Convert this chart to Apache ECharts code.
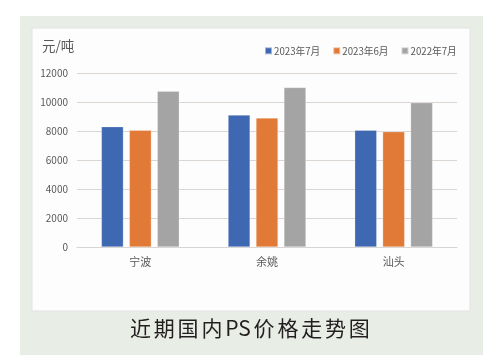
<!DOCTYPE html>
<html><head><meta charset="utf-8">
<script src="https://cdn.jsdelivr.net/npm/echarts@6/dist/echarts.min.js"></script>
<style>html,body{margin:0;padding:0;background:#fff;}#c{width:491px;height:362px;}</style>
</head><body><div id="c"></div>
<script>
const categories = ['宁波', '余姚', '汕头'];
const seriesNames = ['2023年7月', '2023年6月', '2022年7月'];
const jul2023 = [8300, 9100, 8050];
const jun2023 = [8050, 8900, 7950];
const jul2022 = [10750, 11000, 9950];
const yTicks = [0, 2000, 4000, 6000, 8000, 10000, 12000];
const captionParts = ['近', '期', '国', '内', 'PS', '价', '格', '走', '势', '图'];

const colors = ['#3f68b2', '#e17a36', '#a5a4a4'];
const chart = echarts.init(document.getElementById('c'), null, {renderer: 'canvas'});
const font = '"Noto Sans CJK SC", "Noto Sans", sans-serif';
const dataSets = [jul2023, jun2023, jul2022];
const capRich = captionParts.map(ch => '{a|' + ch + '}').join('');
chart.setOption({
  animation: false,
  backgroundColor: '#ffffff',
  graphic: [
    {type: 'rect', shape: {x: 20, y: 16, width: 463, height: 339}, style: {fill: '#e8ede6'}, z: -10},
    {type: 'rect', shape: {x: 32, y: 28, width: 438, height: 283}, style: {fill: '#fdfdfd', stroke: '#e3e3e3', lineWidth: 1}, z: -9},
    {type: 'text', left: 130, top: 318, style: {
      text: capRich, fill: '#231f20',
      rich: {a: {fontSize: 21, fontFamily: '"Noto Sans CJK SC", sans-serif', fill: '#231f20', padding: [0, 1.4, 0, 1.4]}}
    }, z: 10}
  ],
  title: {
    text: '元/吨', left: 37, top: 34,
    textStyle: {fontSize: 13.5, fontWeight: 'normal', color: '#595959', fontFamily: font}
  },
  legend: {
    data: seriesNames, left: 259, top: 41, itemWidth: 7, itemHeight: 7, itemGap: 12,
    icon: 'rect',
    textStyle: {fontSize: 9.7, color: '#595959', fontFamily: font, padding: [0, 0, 0, -3]}
  },
  grid: {left: 77, right: 34, top: 73, bottom: 115, containLabel: false},
  xAxis: {
    type: 'category', data: categories,
    axisLine: {lineStyle: {color: '#d9d5d2'}}, axisTick: {show: false},
    axisLabel: {fontSize: 11, color: '#595959', fontFamily: font, margin: 9}
  },
  yAxis: {
    type: 'value', min: yTicks[0], max: yTicks[yTicks.length - 1], interval: yTicks[1] - yTicks[0],
    axisLine: {show: false}, axisTick: {show: false},
    splitLine: {lineStyle: {color: '#dcd6d2'}},
    axisLabel: {fontSize: 10, color: '#595959', fontFamily: font, margin: 9, formatter: v => String(v)}
  },
  series: seriesNames.map((n, i) => ({
    name: n, type: 'bar', data: dataSets[i],
    barWidth: 22, barGap: '27%',
    itemStyle: {color: colors[i], borderColor: 'rgba(255,255,255,0.5)', borderWidth: 0.5}
  }))
});
</script></body></html>
